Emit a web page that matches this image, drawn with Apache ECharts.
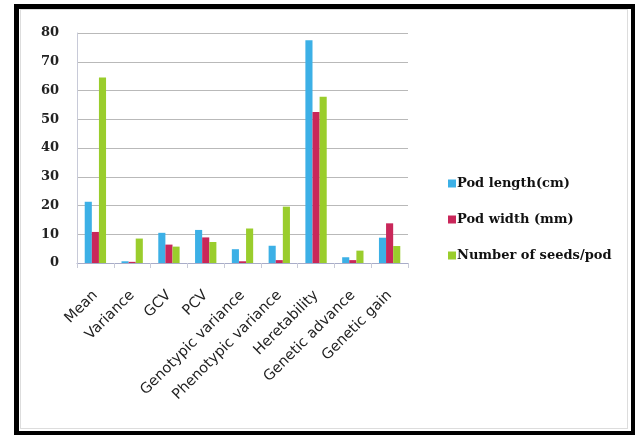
<!DOCTYPE html>
<html><head><meta charset="utf-8">
<script src="https://cdn.jsdelivr.net/npm/echarts@6/dist/echarts.min.js"></script>
<style>
html,body{margin:0;padding:0;background:#fff;}
#frame{position:absolute;left:14px;top:4px;width:612px;height:422px;border:5px solid #000;border-right-width:4px;border-bottom-width:4px;}
#inner{position:absolute;left:20px;top:9px;width:606px;height:418px;border:1px solid #ddd;}
#chart{position:absolute;left:0;top:0;width:641px;height:436px;}
</style></head>
<body>
<div id="frame"></div><div id="inner"></div>
<div id="chart"></div>
<script>
const categories = ["Mean","Variance","GCV","PCV","Genotypic variance","Phenotypic variance","Heretability","Genetic advance","Genetic gain"];
const seriesNames = ["Pod length(cm)","Pod width (mm)","Number of seeds/pod"];
const podLength = [21.3, 0.6, 10.5, 11.5, 4.8, 6.0, 77.5, 2.0, 8.8];
const podWidth = [10.8, 0.4, 6.4, 8.9, 0.6, 1.0, 52.5, 1.0, 13.8];
const seedsPerPod = [64.5, 8.5, 5.7, 7.3, 12.0, 19.6, 57.8, 4.3, 5.9];
const yTicks = [0,10,20,30,40,50,60,70,80];
const colors = ["#3cb0e6","#c9275a","#9acd2c"];

const chart = echarts.init(document.getElementById('chart'), null, {renderer:'canvas'});
const data = [podLength, podWidth, seedsPerPod];
chart.setOption({
  animation:false,
  grid:{left:77,right:233,top:33,bottom:173,containLabel:false},
  legend:{
    orient:'vertical', left:443, top:172, itemGap:23,
    itemWidth:8, itemHeight:8, icon:'rect',
    textStyle:{fontFamily:'DejaVu Serif',fontWeight:'bold',fontSize:13,color:'#111',padding:[0,0,0,-4]},
    data:seriesNames
  },
  xAxis:{
    type:'category', data:categories,
    axisLine:{lineStyle:{color:'#a8acc8',width:1}},
    axisTick:{show:true,alignWithLabel:false,lineStyle:{color:'#c8cad8'}},
    axisLabel:{rotate:45,interval:0,fontFamily:'DejaVu Sans',fontSize:14.5,color:'#222',margin:30}
  },
  yAxis:{
    type:'value', min:yTicks[0], max:yTicks[yTicks.length-1], interval:10,
    axisLine:{show:true,lineStyle:{color:'#c8cad8'}},
    axisTick:{show:false},
    splitLine:{lineStyle:{color:'#b9b9b9',width:1}},
    axisLabel:{fontFamily:'DejaVu Serif',fontWeight:'bold',fontSize:13,color:'#222',margin:18}
  },
  series: seriesNames.map((n,i)=>({
    name:n, type:'bar', data:data[i], barGap:'0%', barCategoryGap:'42%',
    itemStyle:{color:colors[i]}
  }))
});
</script>
</body></html>
